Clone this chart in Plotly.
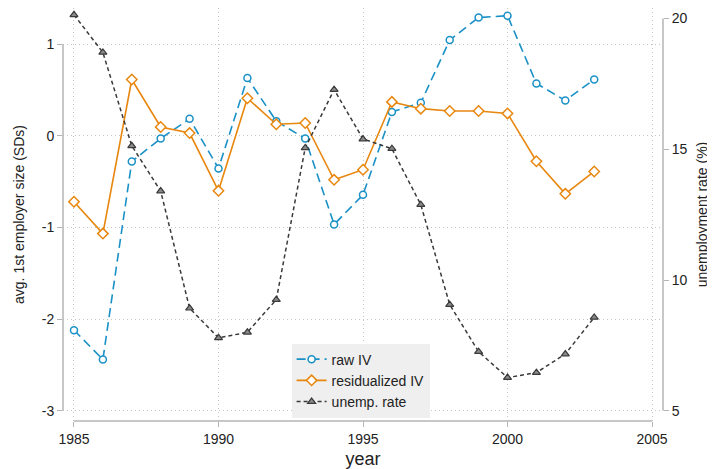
import plotly.graph_objects as go

years = list(range(1985, 2004))
raw_iv = [-2.12, -2.44, -0.28, -0.03, 0.185, -0.356, 0.63, 0.16, -0.03, -0.967,
          -0.644, 0.26, 0.36, 1.044, 1.29, 1.31, 0.57, 0.385, 0.614]
resid_iv = [-0.719, -1.067, 0.614, 0.096, 0.03, -0.60, 0.41, 0.126, 0.14, -0.48,
            -0.37, 0.37, 0.296, 0.27, 0.27, 0.244, -0.278, -0.633, -0.389]
unemp = [20.14, 18.70, 15.13, 13.40, 8.92, 7.79, 8.00, 9.25, 15.05, 17.28,
         15.39, 15.02, 12.88, 9.06, 7.26, 6.27, 6.46, 7.17, 8.57]

x_ticks = [1985, 1990, 1995, 2000, 2005]
y_ticks = [-3, -2, -1, 0, 1]
y_ticklabels = ["-3", "-2", "-1", "0", "1"]
y2_ticks = [5, 10, 15, 20]

BLUE = "#1a91c6"
ORANGE = "#e8870f"
DARK = "#3a3a3a"
AXIS = "#b4b4b4"
GRID = "#c4c4c4"
FONT = "Liberation Sans, Arial, Helvetica, sans-serif"

fig = go.Figure()
fig.add_trace(go.Scatter(
    x=years, y=raw_iv, name="raw IV", mode="lines+markers",
    line=dict(color=BLUE, width=1.6, dash="9px,5px"),
    marker=dict(symbol="circle", size=7, color="white", line=dict(color=BLUE, width=1.5)),
))
fig.add_trace(go.Scatter(
    x=years, y=resid_iv, name="residualized IV", mode="lines+markers",
    line=dict(color=ORANGE, width=1.6),
    marker=dict(symbol="diamond", size=8, color="white", line=dict(color=ORANGE, width=1.5)),
))
fig.add_trace(go.Scatter(
    x=years, y=unemp, name="unemp. rate", mode="lines+markers", yaxis="y2",
    line=dict(color=DARK, width=1.5, dash="4px,3px"),
    marker=dict(symbol="triangle-up", size=7, color="#8a8a8a", line=dict(color=DARK, width=1.2)),
))

# Stata-style axis lines spanning the tick range only
fig.add_shape(type="line", xref="paper", yref="y", x0=0, x1=0, y0=-3, y1=1,
              line=dict(color=AXIS, width=1.5))
fig.add_shape(type="line", xref="x", yref="paper", x0=1985, x1=2005, y0=0, y1=0,
              line=dict(color=AXIS, width=1.5))
fig.add_shape(type="line", xref="paper", yref="y2", x0=1, x1=1, y0=5, y1=20,
              line=dict(color=AXIS, width=1.5))

# page body has an 8px default margin, so the figure is sized/offset to compensate
fig.update_layout(
    width=707, height=461,
    margin=dict(l=55, r=52, t=0, b=48, autoexpand=False),
    paper_bgcolor="white", plot_bgcolor="white",
    font=dict(family=FONT, size=14, color="#222"),
    showlegend=True,
    legend=dict(x=0.381, y=0.1875, xanchor="left", yanchor="top",
                bgcolor="#efefef", borderwidth=0, font=dict(size=14),
                itemwidth=30, tracegroupgap=0),
    xaxis=dict(range=[1984.62, 2005.38], tickvals=x_ticks, ticks="outside",
               ticklen=5, tickcolor=AXIS, showline=False, zeroline=False,
               showgrid=True, gridcolor=GRID, griddash="1px,3px", gridwidth=1,
               title=dict(text="year", font=dict(size=18), standoff=10),
               tickfont=dict(size=14)),
    yaxis=dict(range=[-3.111, 1.394], tickvals=y_ticks, ticktext=y_ticklabels,
               ticks="outside",
               ticklen=5, tickcolor=AXIS, showline=False, zeroline=False,
               showgrid=True, gridcolor=GRID, griddash="1px,3px", gridwidth=1,
               title=dict(text="avg. 1st employer size (SDs)", font=dict(size=14), standoff=13),
               tickfont=dict(size=14)),
    yaxis2=dict(range=[4.61, 20.40], tickvals=y2_ticks, overlaying="y", side="right",
                ticks="outside", ticklen=5, tickcolor=AXIS, showline=False,
                zeroline=False, showgrid=False,
                title=dict(text="unemployment rate (%)", font=dict(size=14), standoff=10),
                tickfont=dict(size=14)),
)

fig.write_html("out.html")
